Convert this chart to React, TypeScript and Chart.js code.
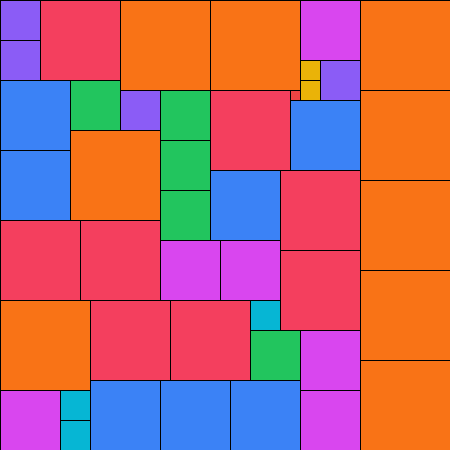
import React, { useEffect, useRef } from "react";
import { Chart, registerables } from "chart.js";

Chart.register(...registerables);

// Each cell: left, top, width, height (in data units 0..450) and its colour
const cellX = [0, 0, 40, 120, 210, 300, 300, 300, 320, 360, 360, 360, 360, 360,
  0, 70, 120, 160, 210, 290, 290, 70, 0, 160, 160, 210, 280, 280, 160, 220,
  0, 80, 0, 90, 170, 250, 250, 300, 300, 0, 60, 60, 90, 160, 230];
const cellY = [0, 40, 0, 0, 0, 0, 60, 80, 60, 0, 90, 180, 270, 360,
  80, 80, 90, 90, 90, 90, 100, 130, 150, 140, 190, 170, 170, 250, 240, 240,
  220, 220, 300, 300, 300, 300, 330, 330, 390, 390, 390, 420, 380, 380, 380];
const cellW = [40, 40, 80, 90, 90, 60, 20, 20, 40, 90, 90, 90, 90, 90,
  70, 50, 40, 50, 80, 10, 70, 90, 70, 50, 50, 70, 80, 80, 60, 60,
  80, 80, 90, 80, 80, 30, 50, 60, 60, 60, 30, 30, 70, 70, 70];
const cellH = [40, 40, 80, 90, 90, 60, 20, 20, 40, 90, 90, 90, 90, 90,
  70, 50, 40, 50, 80, 10, 70, 90, 70, 50, 50, 70, 80, 80, 60, 60,
  80, 80, 90, 80, 80, 30, 50, 60, 60, 60, 30, 30, 70, 70, 70];
const cellColor = [
  "#8B5CF6", "#8B5CF6", "#F43F5E", "#F97316", "#F97316", "#D946EF", "#EAB308", "#EAB308", "#8B5CF6",
  "#F97316", "#F97316", "#F97316", "#F97316", "#F97316",
  "#3B82F6", "#22C55E", "#8B5CF6", "#22C55E", "#F43F5E", "#EF4444", "#3B82F6", "#F97316", "#3B82F6",
  "#22C55E", "#22C55E", "#3B82F6", "#F43F5E", "#F43F5E", "#D946EF", "#D946EF",
  "#F43F5E", "#F43F5E", "#F97316", "#F43F5E", "#F43F5E", "#06B6D4", "#22C55E", "#D946EF", "#D946EF",
  "#D946EF", "#06B6D4", "#06B6D4", "#3B82F6", "#3B82F6", "#3B82F6",
];

const rectPlugin = {
  id: "cellRects",
  beforeDatasetsDraw(chart: any) {
    const { ctx, scales } = chart;
    const xs = scales.x;
    const ys = scales.y;
    ctx.save();
    for (let i = 0; i < cellX.length; i++) {
      const px0 = xs.getPixelForValue(cellX[i]);
      const px1 = xs.getPixelForValue(cellX[i] + cellW[i]);
      const py0 = ys.getPixelForValue(cellY[i]);
      const py1 = ys.getPixelForValue(cellY[i] + cellH[i]);
      ctx.fillStyle = cellColor[i];
      ctx.fillRect(px0, py0, px1 - px0, py1 - py0);
      ctx.strokeStyle = "#000000";
      ctx.lineWidth = 1;
      ctx.strokeRect(px0 + 0.5, py0 + 0.5, px1 - px0, py1 - py0);
    }
    ctx.restore();
  },
};

export default function App() {
  const ref = useRef<HTMLCanvasElement>(null);
  useEffect(() => {
    if (!ref.current) return;
    const chart = new Chart(ref.current, {
      type: "scatter",
      data: {
        datasets: [
          {
            data: cellX.map((x, i) => ({ x: x + cellW[i] / 2, y: cellY[i] + cellH[i] / 2 })),
            pointRadius: 0,
            pointHoverRadius: 0,
          },
        ],
      },
      options: {
        responsive: false,
        animation: false,
        layout: { padding: 0 },
        plugins: { legend: { display: false }, tooltip: { enabled: false } },
        scales: {
          x: { type: "linear", min: 0, max: 450, display: false },
          y: { type: "linear", min: 0, max: 450, reverse: true, display: false },
        },
      },
      plugins: [rectPlugin],
    });
    return () => chart.destroy();
  }, []);
  return (
    <div style={{ position: "fixed", left: 0, top: 0, width: 450, height: 450, background: "#ffffff" }}>
      <canvas ref={ref} width={450} height={450} style={{ display: "block" }} />
    </div>
  );
}
